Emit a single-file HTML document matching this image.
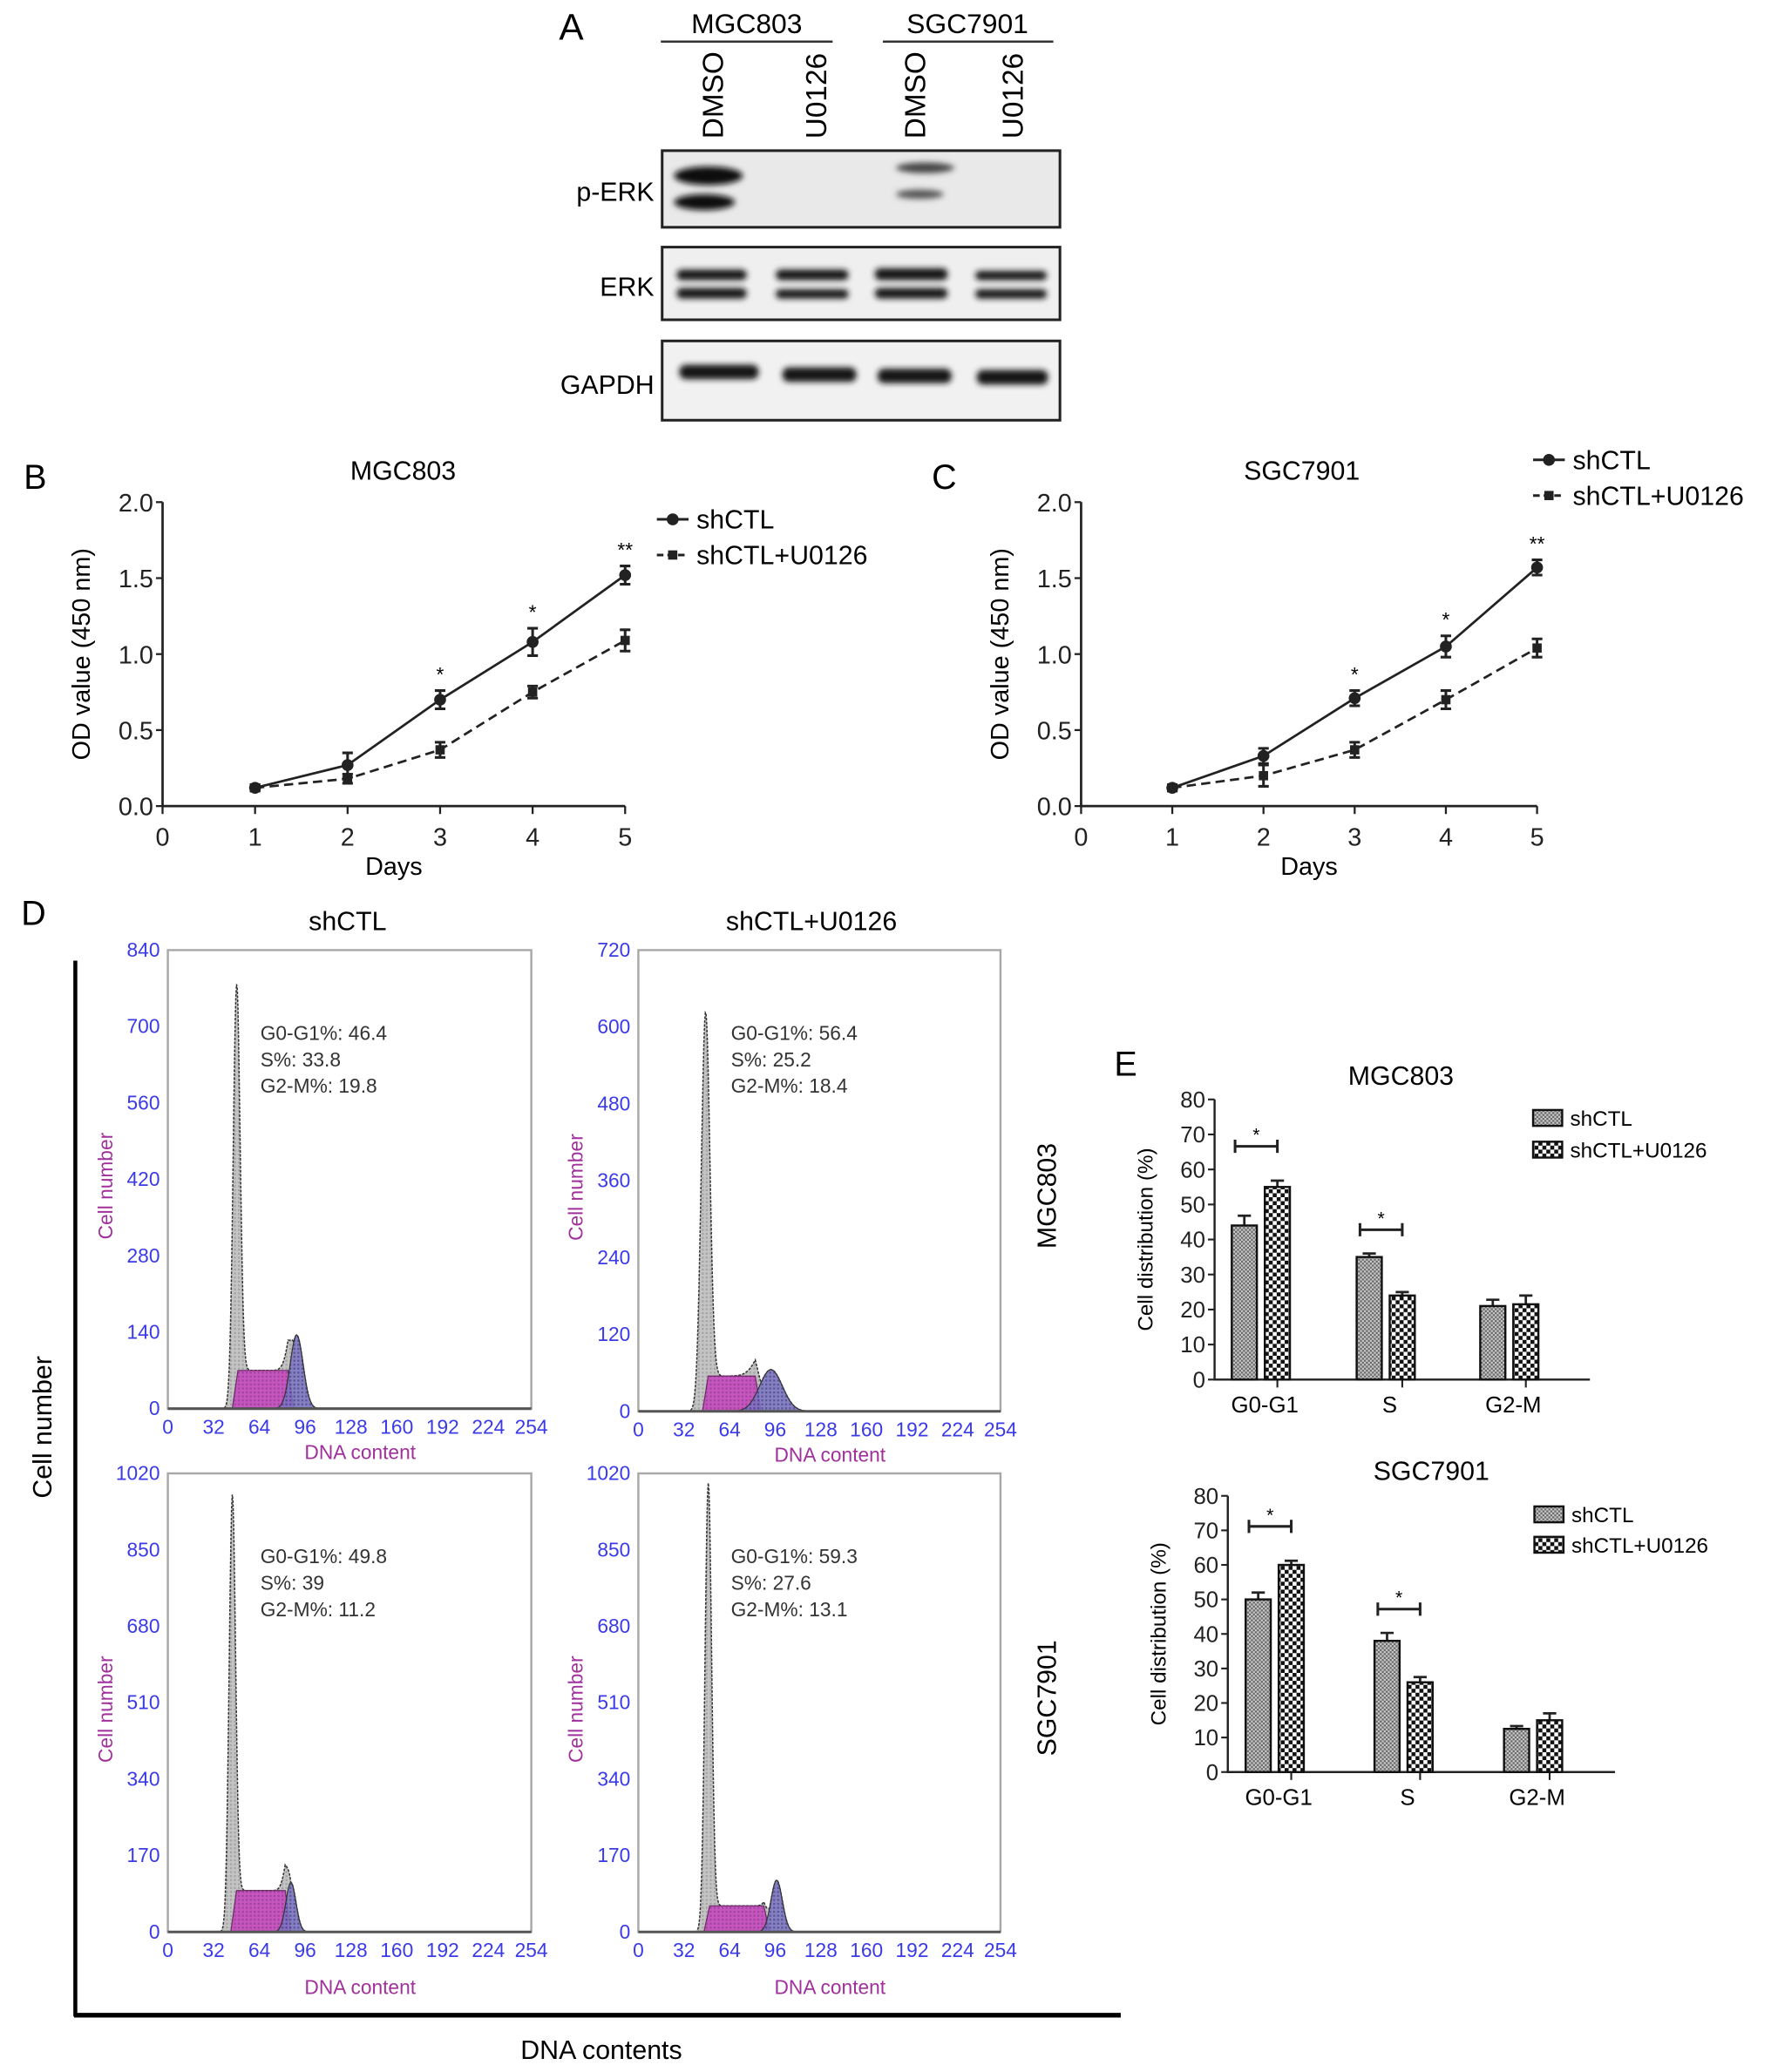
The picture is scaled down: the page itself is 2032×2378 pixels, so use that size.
<!DOCTYPE html>
<html><head><meta charset="utf-8"><style>
html,body{margin:0;padding:0;background:#fff}
svg{display:block}
text{font-family:"Liberation Sans",Arial,sans-serif}
</style></head><body>
<svg id="fig" width="2032" height="2378" viewBox="0 0 1340 1568" preserveAspectRatio="none" xmlns="http://www.w3.org/2000/svg">
<defs>
<filter id="blur2" x="-20%" y="-50%" width="140%" height="200%"><feGaussianBlur stdDeviation="2.2"/></filter>
<pattern id="pFine" width="3" height="3" patternUnits="userSpaceOnUse"><rect width="3" height="3" fill="#c8c8c8"/><rect width="1.5" height="1.5" fill="#6a6a6a"/><rect x="1.5" y="1.5" width="1.5" height="1.5" fill="#6a6a6a"/></pattern>
<pattern id="pCoarse" width="6" height="6" patternUnits="userSpaceOnUse"><rect width="6" height="6" fill="#fff"/><rect width="3" height="3" fill="#111"/><rect x="3" y="3" width="3" height="3" fill="#111"/></pattern>
<pattern id="pMag" width="3" height="3" patternUnits="userSpaceOnUse"><rect width="3" height="3" fill="#c64fc0"/><rect width="1.5" height="1.5" fill="#a0409c"/></pattern>
<pattern id="pBlue" width="3" height="3" patternUnits="userSpaceOnUse"><rect width="3" height="3" fill="#7a74c0"/><rect width="1.5" height="1.5" fill="#4e4896"/></pattern>
<pattern id="pGray" width="3" height="3" patternUnits="userSpaceOnUse"><rect width="3" height="3" fill="#c4c4c4"/><rect width="1.5" height="1.5" fill="#a4a4a4"/></pattern>
</defs>

<g>
<text x="423" y="30" font-size="28">A</text>
<text x="565" y="25" font-size="21" text-anchor="middle">MGC803</text>
<line x1="500" y1="31.5" x2="630" y2="31.5" stroke="#333" stroke-width="1.6"/>
<text x="732" y="25" font-size="21" text-anchor="middle">SGC7901</text>
<line x1="668" y1="31.5" x2="797" y2="31.5" stroke="#333" stroke-width="1.6"/>
<text transform="translate(547,105) rotate(-90)" font-size="22">DMSO</text>
<text transform="translate(625,105) rotate(-90)" font-size="22">U0126</text>
<text transform="translate(700,105) rotate(-90)" font-size="22">DMSO</text>
<text transform="translate(774,105) rotate(-90)" font-size="22">U0126</text>
<text x="495" y="152" font-size="20" text-anchor="end">p-ERK</text>
<text x="495" y="224" font-size="20" text-anchor="end">ERK</text>
<text x="495" y="298" font-size="20" text-anchor="end">GAPDH</text>
<g>
<rect x="501" y="114" width="301" height="58" fill="#e9e9e9" stroke="#222" stroke-width="2"/>
<g filter="url(#blur2)">
<ellipse cx="536" cy="133" rx="26" ry="7" fill="#111"/>
<ellipse cx="533" cy="153" rx="23" ry="6" fill="#111"/>
<ellipse cx="700" cy="127" rx="22" ry="4" fill="#444"/>
<ellipse cx="696" cy="147" rx="18" ry="3.5" fill="#555"/>
</g>
</g>
<g>
<rect x="501" y="187" width="301" height="55" fill="#efefef" stroke="#222" stroke-width="2"/>
<g filter="url(#blur2)" fill="#151515">
<rect x="512" y="204" width="53" height="8" rx="4"/><rect x="512" y="218" width="53" height="8" rx="4"/>
<rect x="587" y="204" width="55" height="8" rx="4"/><rect x="587" y="219" width="55" height="7" rx="3.5"/>
<rect x="662" y="203" width="55" height="9" rx="4"/><rect x="662" y="218" width="55" height="8" rx="4"/>
<rect x="738" y="205" width="54" height="7" rx="3.5"/><rect x="738" y="219" width="54" height="7" rx="3.5"/>
</g>
</g>
<g>
<rect x="501" y="258" width="301" height="60" fill="#f1f1f1" stroke="#222" stroke-width="2"/>
<g filter="url(#blur2)" fill="#151515">
<rect x="514" y="276" width="60" height="11" rx="5"/>
<rect x="592" y="278" width="56" height="11" rx="5"/>
<rect x="664" y="279" width="56" height="11" rx="5"/>
<rect x="739" y="280" width="54" height="11" rx="5"/>
</g>
</g>
</g>

<g id="lineCharts"></g>
<g id="histos"></g>
<g id="barCharts"></g>

<g>
<text x="16" y="700" font-size="26">D</text>
<line x1="57" y1="727" x2="57" y2="1526" stroke="#000" stroke-width="3"/>
<line x1="56" y1="1525" x2="848" y2="1525" stroke="#000" stroke-width="3.5"/>
<text transform="translate(39,1080) rotate(-90)" font-size="20" text-anchor="middle">Cell number</text>
<text x="455" y="1558" font-size="20" text-anchor="middle">DNA contents</text>
<text x="263" y="704" font-size="20" text-anchor="middle">shCTL</text>
<text x="614" y="704" font-size="20" text-anchor="middle">shCTL+U0126</text>
<text transform="translate(799,905) rotate(-90)" font-size="20" text-anchor="middle">MGC803</text>
<text transform="translate(799,1285) rotate(-90)" font-size="20" text-anchor="middle">SGC7901</text>
<text x="843" y="814" font-size="26">E</text>
</g>
</svg>
<script>
var NS='http://www.w3.org/2000/svg';
function mk(parent,tag,attrs,txt){var e=document.createElementNS(NS,tag);for(var k in attrs)e.setAttribute(k,attrs[k]);if(txt!==undefined)e.textContent=txt;parent.appendChild(e);return e;}

/* ===== Panels B & C data ===== */
var days=[1,2,3,4,5];
var xTickLabels=['0','1','2','3','4','5'];
var yTickLabelsOD=['0.0','0.5','1.0','1.5','2.0'];
var mgcCtl=[0.12,0.27,0.70,1.08,1.52];
var mgcCtlErr=[0.02,0.08,0.06,0.09,0.06];
var mgcU=[0.12,0.18,0.37,0.75,1.09];
var mgcUErr=[0.02,0.03,0.05,0.04,0.07];
var sgcCtl=[0.12,0.33,0.71,1.05,1.57];
var sgcCtlErr=[0.02,0.05,0.05,0.07,0.05];
var sgcU=[0.12,0.20,0.37,0.70,1.04];
var sgcUErr=[0.02,0.07,0.05,0.06,0.06];
var odStars=['','','*','*','**'];

/* ===== Panel D data (peak parameters) ===== */
var histTitles=['MGC803 shCTL','MGC803 shCTL+U0126','SGC7901 shCTL','SGC7901 shCTL+U0126'];
var histYMax=[840,720,1020,1020];
var g1Pos=[48,47,45,49];
var g1Height=[725,595,950,955];
var g1Width=[2.4,3.0,2.2,2.3];
var sStart=[45,45,44,46];
var sEnd=[84,82,82,88];
var sHeight=[70,55,92,58];
var g2Pos=[90,93,86,97];
var g2Height=[135,65,110,115];
var g2Width=[4.5,8,3.5,4];
var g1Text=['G0-G1%: 46.4','G0-G1%: 56.4','G0-G1%: 49.8','G0-G1%: 59.3'];
var sText=['S%: 33.8','S%: 25.2','S%: 39','S%: 27.6'];
var g2Text=['G2-M%: 19.8','G2-M%: 18.4','G2-M%: 11.2','G2-M%: 13.1'];
var dnaTicks=[0,32,64,96,128,160,192,224,254];

/* ===== Panel E data ===== */
var phases=['G0-G1','S','G2-M'];
var yTickLabelsPct=['0','10','20','30','40','50','60','70','80'];
var eMgcCtl=[44,35,21];
var eMgcCtlErr=[2.8,1,1.8];
var eMgcU=[55,24,21.5];
var eMgcUErr=[1.8,1,2.5];
var eSgcCtl=[50,38,12.5];
var eSgcCtlErr=[2,2.3,0.8];
var eSgcU=[60,26,15];
var eSgcUErr=[1.2,1.5,2];
var eSig=[true,true,false];

(function(){
 var root=document.getElementById('lineCharts');
 var cfgs=[
  {name:'b',label:'B',lx:18,title:'MGC803',tx:305,x0:123,x1:473,ctl:mgcCtl,ce:mgcCtlErr,u:mgcU,ue:mgcUErr,legX:497,legY:[393,420],ylx:62},
  {name:'c',label:'C',lx:705,title:'SGC7901',tx:985,x0:818,x1:1163,ctl:sgcCtl,ce:sgcCtlErr,u:sgcU,ue:sgcUErr,legX:1160,legY:[348,375],ylx:757}
 ];
 cfgs.forEach(function(c){
  var g=mk(root,'g',{});
  
  
  var y0=610,y1=380;
  function X(d){return c.x0+(c.x1-c.x0)*d/5;}
  function Y(v){return y0-(y0-y1)*v/2;}
  var t=mk(g,'text',{x:c.lx,y:370,'font-size':26},c.label);
  
  
  t=mk(g,'text',{x:c.tx,y:363,'font-size':20,'text-anchor':'middle'},c.title);
  
  
  var ax=mk(g,'path',{d:'M'+c.x0+','+y1+'V'+y0+'H'+c.x1,fill:'none',stroke:'#222','stroke-width':1.8});
  
  
  yTickLabelsOD.forEach(function(l,i){
   var v=i*0.5;
   var tk=mk(g,'line',{x1:c.x0-5,x2:c.x0,y1:Y(v),y2:Y(v),stroke:'#222','stroke-width':1.5});
   
   
   var tl=mk(g,'text',{x:c.x0-7,y:Y(v)+7,'font-size':19,'text-anchor':'end',fill:'#222'},l);
   
   
  });
  xTickLabels.forEach(function(l,i){
   var tk=mk(g,'line',{x1:X(i),x2:X(i),y1:y0,y2:y0+6,stroke:'#222','stroke-width':1.5});
   
   
   var tl=mk(g,'text',{x:X(i),y:y0+30,'font-size':19,'text-anchor':'middle',fill:'#222'},l);
   
   
  });
  t=mk(g,'text',{x:(c.x0+c.x1)/2,y:662,'font-size':19,'text-anchor':'middle'},'Days');
  
  
  t=mk(g,'text',{transform:'translate('+(c.ylx+6)+',495) rotate(-90)','font-size':19,'text-anchor':'middle'},'OD value (450 nm)');
  
  
  function series(vals,errs,dash,shape,nm){
   var sg=mk(g,'g',{});
   
   
   var d='';days.forEach(function(dd,i){d+=(i?'L':'M')+X(dd)+','+Y(vals[i]);});
   var p=mk(sg,'path',{d:d,fill:'none',stroke:'#222','stroke-width':1.8,'stroke-dasharray':dash});
   
   
   days.forEach(function(dd,i){
    var x=X(dd),yt=Y(vals[i]+errs[i]),yb=Y(vals[i]-errs[i]);
    var eb=mk(sg,'path',{d:'M'+(x-4)+','+yt+'H'+(x+4)+'M'+x+','+yt+'V'+yb+'M'+(x-4)+','+yb+'H'+(x+4),stroke:'#222','stroke-width':2,fill:'none'});
    
    
    var m=shape==='c'?mk(sg,'circle',{cx:x,cy:Y(vals[i]),r:4.5,fill:'#222'}):mk(sg,'rect',{x:x-3.5,y:Y(vals[i])-3.5,width:7,height:7,fill:'#222'});
    
    
   });
  }
  series(c.u,c.ue,'7,4','s','shctl-u0126');
  series(c.ctl,c.ce,'','c','shctl');
  days.forEach(function(dd,i){
   if(!odStars[i])return;
   var s=mk(g,'text',{x:X(dd),y:Y(c.ctl[i]+c.ce[i])-7,'font-size':15,'text-anchor':'middle'},odStars[i]);
   
   
  });
  var lg=mk(g,'g',{});
  
  
  var le=mk(lg,'g',{});
  
  
  mk(le,'line',{x1:c.legX,x2:c.legX+24,y1:c.legY[0],y2:c.legY[0],stroke:'#222','stroke-width':2});
  mk(le,'circle',{cx:c.legX+12,cy:c.legY[0],r:4.5,fill:'#222'});
  mk(le,'text',{x:c.legX+30,y:c.legY[0]+7,'font-size':20},'shCTL');
  le=mk(lg,'g',{});
  
  
  mk(le,'line',{x1:c.legX,x2:c.legX+24,y1:c.legY[1],y2:c.legY[1],stroke:'#222','stroke-width':2,'stroke-dasharray':'5,3'});
  mk(le,'rect',{x:c.legX+8.5,y:c.legY[1]-3.5,width:7,height:7,fill:'#222'});
  mk(le,'text',{x:c.legX+30,y:c.legY[1]+7,'font-size':20},'shCTL+U0126');
 });
})();

(function(){
 var root=document.getElementById('histos');
 var boxes=[[127,719,402,1066],[483,719,757,1068],[127,1115,402,1462],[483,1115,757,1462]];
 boxes.forEach(function(b,k){
  var g=mk(root,'g',{});
  
  
  var L=b[0],T=b[1],R=b[2],B=b[3];
  function X(v){return L+(R-L)*v/254;}
  function Y(v){return B-(B-T)*v/histYMax[k];}
  var fr=mk(g,'rect',{x:L,y:T,width:R-L,height:B-T,fill:'#fff',stroke:'#a8a8a8','stroke-width':1.6});
  
  
  function sFun(x){var r=4;if(x<sStart[k]||x>sEnd[k]+r)return 0;if(x<sStart[k]+r)return sHeight[k]*(x-sStart[k])/r;if(x>sEnd[k])return sHeight[k]*(1-(x-sEnd[k])/r);return sHeight[k];}
  function g1(x){var z=(x-g1Pos[k])/g1Width[k];return g1Height[k]*Math.exp(-z*z/2);}
  function g2(x){var z=(x-g2Pos[k])/g2Width[k];return g2Height[k]*Math.exp(-z*z/2);}
  function path(fn){var d='M'+X(20)+','+B;for(var x=20;x<=140;x+=0.5){d+='L'+X(x).toFixed(2)+','+Y(Math.min(fn(x),histYMax[k])).toFixed(2);}return d+'L'+X(140)+','+B+'Z';}
  var pt=mk(g,'path',{d:path(function(x){return g1(x)+sFun(x)+g2(x);}),fill:'url(#pGray)',stroke:'#333','stroke-width':1,'stroke-dasharray':'2,1'});
  
  
  var ps=mk(g,'path',{d:path(sFun),fill:'url(#pMag)',stroke:'#6a2a66','stroke-width':0.8,'fill-opacity':0.95});
  
  
  var p2=mk(g,'path',{d:path(g2),fill:'url(#pBlue)',stroke:'#333','stroke-width':0.8,'fill-opacity':0.85});
  
  
  var bl=mk(g,'line',{x1:L,x2:R,y1:B,y2:B,stroke:'#555','stroke-width':2});
  
  
  for(var i=0;i<=6;i++){
   var v=histYMax[k]*i/6;
   var tl=mk(g,'text',{x:L-6,y:Y(v)+5,'font-size':15,'text-anchor':'end',fill:'#3a3ae8'},String(Math.round(v)));
   
   
  }
  dnaTicks.forEach(function(v){
   var tl=mk(g,'text',{x:X(v),y:B+19,'font-size':15,'text-anchor':'middle',fill:'#3a3ae8'},String(v));
   
   
  });
  var xt=mk(g,'text',{x:(L+R)/2+8,y:k<2?B+38:B+47,'font-size':15,'text-anchor':'middle',fill:'#a0309c'},'DNA content');
  
  
  var yt=mk(g,'text',{transform:'translate('+(L-42)+','+((T+B)/2+5)+') rotate(-90)','font-size':15,'text-anchor':'middle',fill:'#a0309c'},'Cell number');
  
  
  [g1Text[k],sText[k],g2Text[k]].forEach(function(s,j){
   var at=mk(g,'text',{x:L+70,y:T+68+j*20,'font-size':15,fill:'#333'},s);
   
   
  });
 });
})();

(function(){
 var root=document.getElementById('barCharts');
 var cfgs=[
  {name:'mgc803',title:'MGC803',tx:1060,ty:821,x0:919,x1:1203,yTop:832,y0:1044,centers:[954,1048.5,1142],ctl:eMgcCtl,ce:eMgcCtlErr,u:eMgcU,ue:eMgcUErr,legX:1160,legY:[846,870],ylx:872},
  {name:'sgc7901',title:'SGC7901',tx:1083,ty:1120,x0:929,x1:1222,yTop:1132,y0:1341,centers:[964.5,1062,1160],ctl:eSgcCtl,ce:eSgcCtlErr,u:eSgcU,ue:eSgcUErr,legX:1161,legY:[1146,1169],ylx:882}
 ];
 cfgs.forEach(function(c){
  var g=mk(root,'g',{});
  
  
  function Y(v){return c.y0-(c.y0-c.yTop)*v/80;}
  var t=mk(g,'text',{x:c.tx,y:c.ty,'font-size':20,'text-anchor':'middle'},c.title);
  
  
  var ax=mk(g,'path',{d:'M'+c.x0+','+c.yTop+'V'+c.y0+'H'+c.x1,fill:'none',stroke:'#222','stroke-width':1.6});
  
  
  yTickLabelsPct.forEach(function(l,i){
   var v=i*10;
   var tk=mk(g,'line',{x1:c.x0-5,x2:c.x0,y1:Y(v),y2:Y(v),stroke:'#222','stroke-width':1.4});
   
   
   var tl=mk(g,'text',{x:c.x0-7,y:Y(v)+6,'font-size':17,'text-anchor':'end',fill:'#222'},l);
   
   
  });
  t=mk(g,'text',{transform:'translate('+c.ylx+','+((c.yTop+c.y0)/2)+') rotate(-90)','font-size':16,'text-anchor':'middle'},'Cell distribution (%)');
  
  
  var bw=19;
  phases.forEach(function(ph,i){
   var cx=c.centers[i];
   var xa=cx-bw-3,xb=cx+3;
   var tk=mk(g,'line',{x1:xb+bw/2,x2:xb+bw/2,y1:c.y0,y2:c.y0+6,stroke:'#222','stroke-width':1.4});
   
   
   var tl=mk(g,'text',{x:cx+3,y:c.y0+25,'font-size':17,'text-anchor':'middle'},ph);
   
   
   [[xa,c.ctl[i],c.ce[i],'url(#pFine)','shctl'],[xb,c.u[i],c.ue[i],'url(#pCoarse)','shctl-u0126']].forEach(function(s){
    var eb=mk(g,'path',{d:'M'+(s[0]+bw/2)+','+Y(s[1])+'V'+Y(s[1]+s[2])+'M'+(s[0]+bw/2-5)+','+Y(s[1]+s[2])+'H'+(s[0]+bw/2+5),stroke:'#222','stroke-width':1.8,fill:'none'});
    
    
    var r=mk(g,'rect',{x:s[0],y:Y(s[1]),width:bw,height:c.y0-Y(s[1]),fill:s[3],stroke:'#111','stroke-width':1.6});
    
    
   });
   if(eSig[i]){
    var top=Math.max(c.ctl[i]+c.ce[i],c.u[i]+c.ue[i]);
    var yb=Y(top)-18-(i===0?8:0);
    var x1=xa+bw/2-7,x2=xb+bw/2;
    var br=mk(g,'path',{d:'M'+x1+','+(yb-5)+'V'+(yb+5)+'M'+x1+','+yb+'H'+x2+'M'+x2+','+(yb-5)+'V'+(yb+5),stroke:'#222','stroke-width':2,fill:'none'});
    
    
    var st=mk(g,'text',{x:(x1+x2)/2,y:yb-4,'font-size':14,'text-anchor':'middle'},'*');
    
    
   }
  });
  var lg=mk(g,'g',{});
  
  
  var e1=mk(lg,'g',{});
  
  
  mk(e1,'rect',{x:c.legX,y:c.legY[0]-6,width:22,height:12,fill:'url(#pFine)',stroke:'#111','stroke-width':1.6});
  mk(e1,'text',{x:c.legX+28,y:c.legY[0]+6,'font-size':16},'shCTL');
  var e2=mk(lg,'g',{});
  
  
  mk(e2,'rect',{x:c.legX,y:c.legY[1]-6,width:22,height:12,fill:'url(#pCoarse)',stroke:'#111','stroke-width':1.6});
  mk(e2,'text',{x:c.legX+28,y:c.legY[1]+6,'font-size':16},'shCTL+U0126');
 });
})();
</script>
</body></html>
